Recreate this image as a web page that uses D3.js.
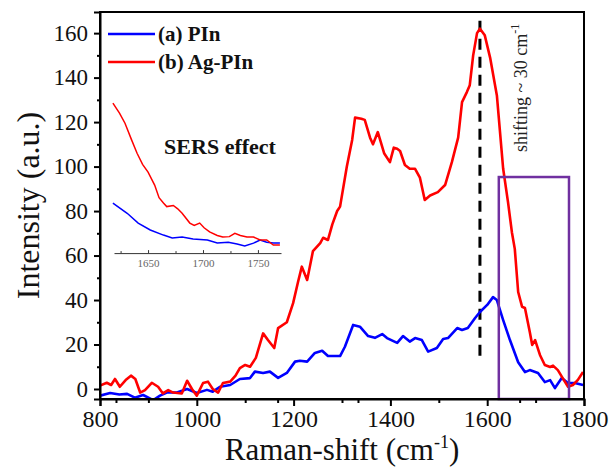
<!DOCTYPE html>
<html>
<head>
<meta charset="utf-8">
<script src="https://cdn.jsdelivr.net/npm/d3@7"></script>
<style>
  body { margin: 0; background: #fff; }
  svg { display: block; }
  text { font-family: "Liberation Serif", "Times New Roman", serif; }
</style>
</head>
<body>
<svg id="chart"></svg>
<script>
// (b) Ag-PIn, main spectrum
var redShift = [800,814,823,831,841,853,864,873,883,893,907,920,930,941,951,969,980,990,1000,1013,1023,1033,1044,1054,1069,1080,1089,1100,1110,1122,1137,1147,1160,1168,1186,1199,1209,1217,1228,1240,1255,1261,1271,1280,1290,1296,1310,1321,1327,1340,1347,1358,1364,1374,1387,1399,1407,1414,1420,1430,1440,1451,1461,1471,1482,1498,1513,1527,1540,1548,1558,1564,1571,1579,1585,1595,1606,1620,1633,1643,1651,1657,1664,1672,1678,1688,1693,1699,1709,1719,1730,1736,1746,1756,1767,1777,1787,1798];
var redIntensity = [1.5,2.8,1.8,4.5,1,4,6,4.5,-1.6,-0.5,2.8,1,-2,-0.5,-1.6,-2,3.7,0,-3,2.7,3.3,0,-1.6,2.7,3.3,6,9.4,10.8,10,14,25,22,18.4,27.4,30,38.6,48,55,49,62,65.6,68,67,74,80,82,100,112,122,121.5,121,113,110,115.5,106,102,108.5,108,107,100.7,99,99,95,85,87,88.5,91.7,102,113,129,133.5,136.6,150,160,162,159,149,132,99,84,70.5,63,43.6,37,36.4,25.6,19.8,22,15.3,10.8,9.9,10.5,8.5,4.9,1,1.8,4,7.6];

// (a) PIn, main spectrum
var blueShift = [800,821,840,856,872,889,910,924,938,959,980,1000,1021,1033,1048,1069,1089,1110,1120,1137,1151,1168,1186,1203,1213,1228,1244,1259,1271,1296,1306,1323,1337,1354,1368,1383,1393,1414,1426,1440,1451,1465,1478,1496,1509,1519,1538,1548,1560,1575,1585,1600,1612,1620,1633,1647,1664,1678,1688,1705,1719,1730,1740,1754,1767,1781,1798];
var blueIntensity = [-3,-1.8,-2.5,-2.2,-3.9,-2.7,-5,-3,-1.6,-1.6,0,-1.8,-0.4,-1.2,1,1.8,4.5,4.9,7.8,7.2,7.8,5,7.2,12.3,12.7,12.3,16.2,17.2,14.8,14.8,19,28.8,28,23.8,23,24.7,22.9,20.7,23.8,21.3,22.9,22,16.8,18.4,22.5,22.9,27.4,26.5,27.4,31.9,34.6,37.8,41.3,40,31,22,12,7.6,8.5,7.2,3.1,4,0.4,4.9,2.7,2.7,1.8];

// inset (SERS effect), 1620-1770 cm-1
var insetRedShift = [1618,1624,1629,1635,1640,1645,1650,1656,1660,1664,1667,1673,1677,1681,1688,1692,1697,1701,1706,1713,1718,1724,1729,1734,1740,1746,1752,1758,1764,1770];
var insetRedIntensity = [128.5,124,119.5,112,106,101,97.5,91.7,86,83.6,82,82.5,81,79,74.6,73.5,74.6,72.5,70.6,69,68.3,68.5,70,69,68.3,68.3,67,67,64.7,64.7];
var insetBlueShift = [1618,1631,1641,1652,1664,1672,1681,1691,1704,1713,1723,1731,1738,1746,1752,1758,1764,1770];
var insetBlueIntensity = [83.6,79,74.6,71.5,69.2,67.9,68.3,67.4,67,65.6,66,65.2,64.3,65.6,67,66,65.6,65.6];

var xTicks = [800,1000,1200,1400,1600,1800];
var xMinor = [900,1100,1300,1500,1700];
var xExtra = [833,1167,1333,1667];
var yTicks = [0,20,40,60,80,100,120,140,160];
var yMinor = [10,30,50,70,90,110,130,150];
var insetTicks = [1650,1700,1750];
var insetMinor = [1625,1675,1725];

var legendNames = ["(a) PIn","(b) Ag-PIn"];
var legendColors = ["#0000ff","#ff0000"];

var peakLine = {x:1585, y0:15, y1:166};
var box = {x0:1624, x1:1769, y0:-4.5, y1:95.3};

var W = 612, H = 467;
var mLeft = 100, mTop = 12, mRight = 584, mBottom = 399;

var svg = d3.select("#chart").attr("width",W).attr("height",H);

var xScale = d3.scaleLinear().domain([800,1800]).range([mLeft,mRight]);
var yScale = d3.scaleLinear().domain([-4.5,169.5]).range([mBottom,mTop]);

function zip(a,b){ return a.map(function(d,i){ return [d,b[i]]; }); }

var line = d3.line()
  .x(function(d){ return xScale(d[0]); })
  .y(function(d){ return yScale(d[1]); });

// clip for the main plot
svg.append("clipPath").attr("id","plotclip")
   .append("rect").attr("x",mLeft).attr("y",mTop)
   .attr("width",mRight-mLeft).attr("height",mBottom-mTop);

var plot = svg.append("g").attr("clip-path","url(#plotclip)");

// dashed peak line
plot.append("line")
   .attr("x1",xScale(peakLine.x)).attr("x2",xScale(peakLine.x))
   .attr("y1",yScale(peakLine.y0)).attr("y2",yScale(peakLine.y1))
   .attr("stroke","#000").attr("stroke-width",3)
   .attr("stroke-dasharray","11,7");

plot.append("path")
   .datum(zip(blueShift,blueIntensity))
   .attr("d",line).attr("fill","none")
   .attr("stroke","#0000ff").attr("stroke-width",2.6)
   .attr("stroke-linejoin","round");

plot.append("path")
   .datum(zip(redShift,redIntensity))
   .attr("d",line).attr("fill","none")
   .attr("stroke","#ff0000").attr("stroke-width",2.6)
   .attr("stroke-linejoin","round");

// purple box
svg.append("rect")
   .attr("x",xScale(box.x0)).attr("y",yScale(box.y1))
   .attr("width",xScale(box.x1)-xScale(box.x0))
   .attr("height",yScale(box.y0)-yScale(box.y1))
   .attr("fill","none").attr("stroke","#7030a0").attr("stroke-width",2.5);

// frame
svg.append("rect")
   .attr("x",mLeft).attr("y",mTop)
   .attr("width",mRight-mLeft).attr("height",mBottom-mTop)
   .attr("fill","none").attr("stroke","#000").attr("stroke-width",2);

// axes
var xAxis = d3.axisBottom(xScale).tickValues(xTicks).tickSize(7).tickPadding(4)
  .tickFormat(d3.format("d"));
var gx = svg.append("g").attr("transform","translate(0,"+mBottom+")").call(xAxis);
gx.select(".domain").attr("stroke-width",2);
gx.selectAll(".tick line").attr("stroke-width",2);
gx.selectAll("text").attr("font-size",24).attr("fill","#111");

var gxm = svg.append("g").attr("transform","translate(0,"+mBottom+")")
  .call(d3.axisBottom(xScale).tickValues(xMinor.concat(xExtra)).tickSize(4).tickFormat(""));
gxm.select(".domain").remove();
gxm.selectAll(".tick line").attr("stroke-width",2);

var yAxis = d3.axisLeft(yScale).tickValues(yTicks).tickSize(6).tickPadding(6)
  .tickFormat(d3.format("d"));
var gy = svg.append("g").attr("transform","translate("+mLeft+",0)").call(yAxis);
gy.select(".domain").attr("stroke-width",2);
gy.selectAll(".tick line").attr("stroke-width",2);
gy.selectAll("text").attr("font-size",23).attr("fill","#111");

var gym = svg.append("g").attr("transform","translate("+mLeft+",0)")
  .call(d3.axisLeft(yScale).tickValues(yMinor).tickSize(3).tickFormat(""));
gym.select(".domain").remove();
gym.selectAll(".tick line").attr("stroke-width",2);

// axis titles
svg.append("text")
   .attr("transform","translate(39,"+((mTop+mBottom)/2)+") rotate(-90)")
   .attr("text-anchor","middle").attr("font-size",32).attr("fill","#111")
   .text("Intensity (a.u.)");

var xt = svg.append("text")
   .attr("x",(mLeft+mRight)/2).attr("y",460)
   .attr("text-anchor","middle").attr("font-size",31).attr("fill","#111");
xt.append("tspan").text("Raman-shift (cm");
xt.append("tspan").attr("font-size",18).attr("dy",-12).text("-1");
xt.append("tspan").attr("dy",12).text(")");

// legend
legendNames.forEach(function(name,i){
  var ly = 34 + i*28;
  svg.append("line").attr("x1",108).attr("x2",155).attr("y1",ly).attr("y2",ly)
     .attr("stroke",legendColors[i]).attr("stroke-width",2.6);
  svg.append("text").attr("x",158).attr("y",ly+7)
     .attr("font-size",21).attr("font-weight","bold").attr("fill","#111")
     .text(name);
});

// inset
var ix = d3.scaleLinear().domain([1619,1771]).range([114,281]);
var insetLine = d3.line()
  .x(function(d){ return ix(d[0]); })
  .y(function(d){ return yScale(d[1]); });

svg.append("path").datum(zip(insetBlueShift,insetBlueIntensity))
   .attr("d",insetLine).attr("fill","none")
   .attr("stroke","#0000ff").attr("stroke-width",1.5);
svg.append("path").datum(zip(insetRedShift,insetRedIntensity))
   .attr("d",insetLine).attr("fill","none")
   .attr("stroke","#ff0000").attr("stroke-width",1.5);

var gi = svg.append("g").attr("transform","translate(0,"+yScale(61.1)+")")
  .call(d3.axisBottom(ix).tickValues(insetTicks).tickSize(-3).tickPadding(6)
        .tickSizeOuter(0).tickFormat(d3.format("d")));
gi.select(".domain").attr("stroke","#333");
gi.selectAll(".tick line").attr("stroke","#333");
gi.selectAll("text").attr("font-size",11).attr("fill","#666");
var gim = svg.append("g").attr("transform","translate(0,"+yScale(61.1)+")")
  .call(d3.axisBottom(ix).tickValues(insetMinor).tickSize(-2).tickFormat(""));
gim.select(".domain").remove();
gim.selectAll(".tick line").attr("stroke","#333");

svg.append("text").attr("x",220).attr("y",154)
   .attr("text-anchor","middle").attr("font-size",22).attr("font-weight","bold")
   .attr("fill","#111").text("SERS effect");

// shift annotation
var st = svg.append("text")
   .attr("transform","translate(527,152) rotate(-90)")
   .attr("font-size",18).attr("fill","#222");
st.append("tspan").text("shifting ~ 30 cm");
st.append("tspan").attr("font-size",12).attr("dy",-8).text("-1");
</script>
</body>
</html>
